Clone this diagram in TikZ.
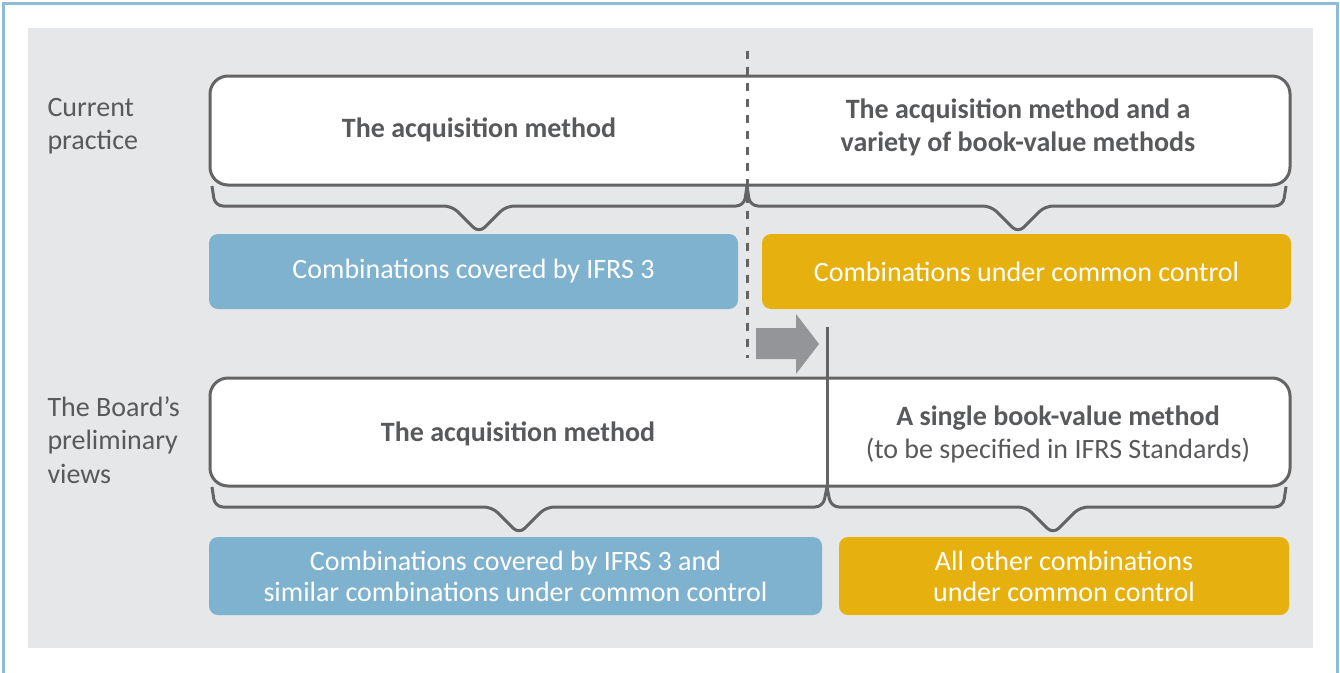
\documentclass[tikz,border=0pt]{standalone}
\usepackage{fontspec}
\setmainfont{Carlito}
\usepackage{tikz}

\definecolor{fond}{HTML}{E6E7E9}
\definecolor{bleu}{HTML}{7FB2CF}
\definecolor{jaune}{HTML}{E6B10F}
\definecolor{trait}{HTML}{646464}
\definecolor{texte}{HTML}{58595B}
\definecolor{fleche}{HTML}{939598}
\definecolor{cadre}{HTML}{8DBBD8}

\begin{document}
\begin{tikzpicture}[x=1pt, y=-1pt,
  boite/.style={draw=trait, line width=3pt, fill=white, rounded corners=18pt},
  boitebleue/.style={fill=bleu, rounded corners=9pt, text=white, align=center,
    font=\fontsize{28}{31}\selectfont},
  boitejaune/.style={fill=jaune, rounded corners=9pt, text=white, align=center,
    font=\fontsize{28}{31}\selectfont},
  titre/.style={text=texte, align=center, font=\fontsize{28}{33}\selectfont},
  etiquette/.style={text=texte, align=left, anchor=west, font=\fontsize{28}{33.5}\selectfont},
  accolade/.style={draw=trait, line width=3pt, rounded corners=8pt}]
  \useasboundingbox (0,0) rectangle (1340,672);

  % Cadre et fond
  \draw[cadre, line width=3pt] (3,3) rectangle (1337,690);
  \fill[fond] (28,28) rectangle (1313,648);

  % Etiquettes a gauche
  \node[etiquette] (lblactuel) at (44,126) {Current\\practice};
  \node[etiquette] (lblboard) at (44,440) {The Board’s\\preliminary\\views};

  % Pratique actuelle
  \node[boite, minimum width=1080, minimum height=109] (actuel) at (750,130.5) {};
  \node[titre] (actgauche) at (479,130) {\bfseries The acquisition method};
  \node[titre] (actdroite) at (1018,127) {\bfseries The acquisition method and a\\\bfseries variety of book-value methods};
  \draw[accolade] (212,186) -- (215,206) -- (452,206) -- (479,233) -- (506,206) -- (744,206) -- (747,186);
  \draw[accolade] (747,186) -- (750,206) -- (991,206) -- (1018,233) -- (1045,206) -- (1283,206) -- (1286,186);
  \node[boitebleue, minimum width=529, minimum height=75] (ifrs) at (473.5,271.5) {Combinations covered by IFRS 3};
  \node[boitejaune, minimum width=529, minimum height=75] (bcuc) at (1026.5,271.5) {Combinations under common control};

  % Separations et fleche
  \draw[trait, line width=3pt, dash pattern=on 8pt off 8pt] (747,51) -- (747,358);
  \fill[fleche] (756,328) -- (796,328) -- (796,314) -- (819,344) -- (796,374) -- (796,359) -- (756,359) -- cycle;

  % Vues preliminaires
  \node[boite, minimum width=1080, minimum height=108] (vues) at (750,432) {};
  \draw[trait, line width=3pt] (827,327) -- (827,487);
  \node[titre] (vuegauche) at (518,434) {\bfseries The acquisition method};
  \node[titre] (vuedroite) at (1058,434) {\bfseries A single book-value method\\(to be specified in IFRS Standards)};
  \draw[accolade] (212,487) -- (215,507) -- (492,507) -- (519,534) -- (546,507) -- (823,507) -- (827,487);
  \draw[accolade] (827,487) -- (831,507) -- (1026,507) -- (1053,534) -- (1080,507) -- (1283,507) -- (1286,487);
  \node[boitebleue, minimum width=613, minimum height=78] (ifrsplus) at (515.5,576) {Combinations covered by IFRS 3 and\\similar combinations under common control};
  \node[boitejaune, minimum width=450, minimum height=78] (autres) at (1064,576) {All other combinations\\under common control};
\end{tikzpicture}
\end{document}
